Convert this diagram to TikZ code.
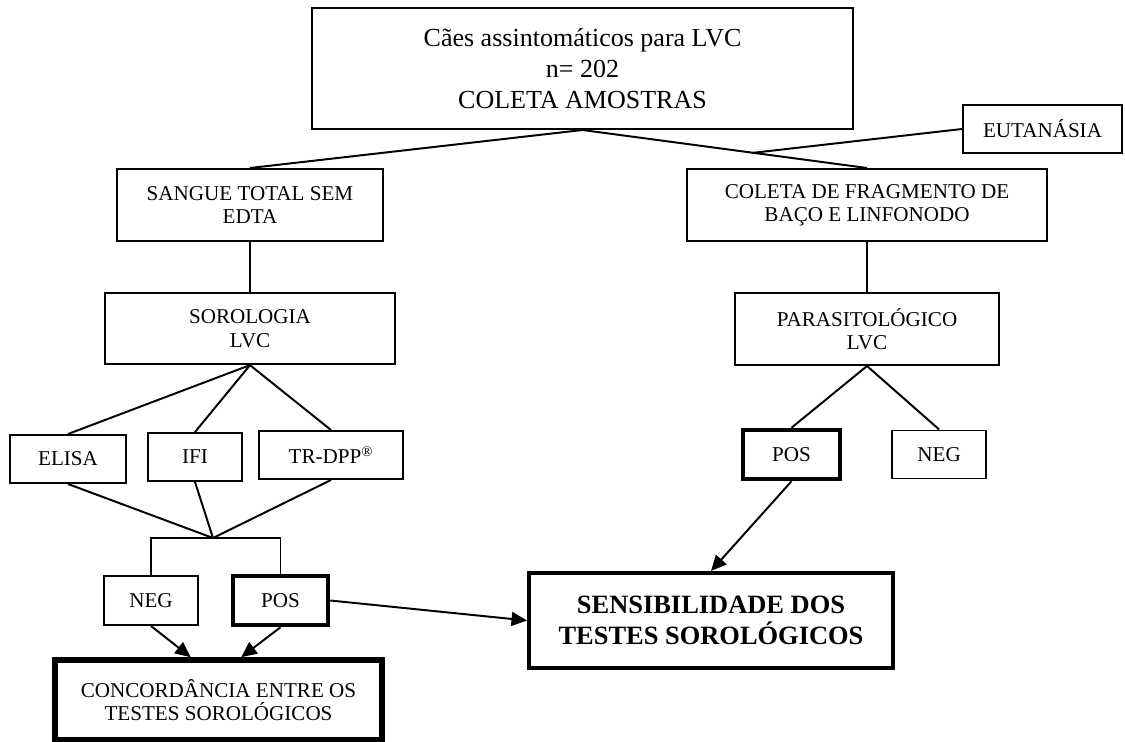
\documentclass[tikz,border=0pt]{standalone}
\usepackage{fontspec}
\setmainfont{Liberation Serif}
\usepackage{tikz}
\usetikzlibrary{shapes,arrows,arrows.meta,positioning}
\tikzstyle{block} = [rectangle, draw, line width=1.4pt, align=center, inner sep=0pt,
    font=\fontsize{15}{16.5}\selectfont, minimum height=1.2cm]
\tikzstyle{bigblock} = [block, font=\fontsize{18.5}{22}\selectfont]
\tikzstyle{result} = [block, line width=3.2pt]
\tikzstyle{link} = [draw, line width=1.4pt]
\tikzstyle{line} = [draw, line width=1.4pt, -{Triangle[length=11pt,width=10pt]}]

\begin{document}
\begin{tikzpicture}[x=0.025cm, y=-0.025cm]
    \useasboundingbox (0,0) rectangle (1125,742);
    % Place nodes
    \node [bigblock, minimum width=13.525cm, minimum height=3.025cm] (dogs) at (582.5,68.5)
        {Cães assintomáticos para LVC\\ n= 202\\ COLETA AMOSTRAS};
    \node [block, minimum width=3.975cm] (euthan) at (1042.5,129) {EUTANÁSIA};
    \node [block, minimum width=6.65cm, minimum height=1.8cm] (blood) at (250,205) {SANGUE TOTAL SEM\\ EDTA};
    \node [block, minimum width=9cm, minimum height=1.8cm] (tissue) at (867,205) {COLETA DE FRAGMENTO DE\\ BAÇO E LINFONODO};
    \node [block, below of=blood, node distance=3.09cm, minimum width=7.225cm, minimum height=1.775cm] (serol) {SOROLOGIA\\ LVC};
    \node [block, below of=tissue, node distance=3.1cm, minimum width=6.6cm, minimum height=1.8cm] (parasit) {PARASITOLÓGICO\\ LVC};
    \node [block, minimum width=2.9cm] (elisa) at (68,459) {ELISA};
    \node [block, minimum width=2.35cm] (ifi) at (195,457) {IFI};
    \node [block, minimum width=3.6cm] (dpp) at (331,455) {TR-DPP\textsuperscript{\textregistered}};
    \node [block, minimum width=2.35cm, minimum height=1.225cm] (serNeg) at (151,600.5) {NEG};
    \node [result, minimum width=2.375cm, minimum height=1.225cm] (serPos) at (280.5,600.5) {POS};
    \node [result, line width=4pt, minimum width=8.175cm, minimum height=2cm] (agree) at (218.5,700)
        {CONCORDÂNCIA ENTRE OS\\ TESTES SOROLÓGICOS};
    \node [result, minimum width=2.425cm, minimum height=1.225cm] (parPos) at (791.5,454.5) {POS};
    \node [block, right of=parPos, node distance=3.69cm, minimum width=2.35cm] (parNeg) {NEG};
    \node [result, line width=2.8pt, minimum width=9.1cm, minimum height=2.375cm,
        font=\fontsize{18.8}{22.5}\selectfont\bfseries] (sens) at (711,620.5)
        {SENSIBILIDADE DOS\\ TESTES SOROLÓGICOS};
    \coordinate (merge) at (213,538);

    % Draw edges
    \path [link] (dogs.south) -- (blood.north);
    \path [link] (dogs.south) -- coordinate[pos=0.6] (cut) (tissue.north);
    \path [link] (euthan.west) -- (cut);
    \path [link] (blood) -- (serol);
    \path [link] (tissue) -- (parasit);
    \path [link] (serol.south) -- (elisa.north);
    \path [link] (serol.south) -- (ifi.north);
    \path [link] (serol.south) -- (dpp.north);
    \path [link] (elisa.south) -- (merge);
    \path [link] (ifi.south) -- (merge);
    \path [link] (dpp.south) -- (merge);
    \path [link] (serNeg) |- (merge) -| (serPos);
    \path [line] (serNeg.south) -- (agree.123);
    \path [line] (serPos.south) -- (agree.62);
    \path [line] (serPos.east) -- (sens.west);
    \path [link] (parasit.south) -- (parPos.north);
    \path [link] (parasit.south) -- (parNeg.north);
    \path [line] (parPos.south) -- (sens.north);
\end{tikzpicture}
\end{document}
